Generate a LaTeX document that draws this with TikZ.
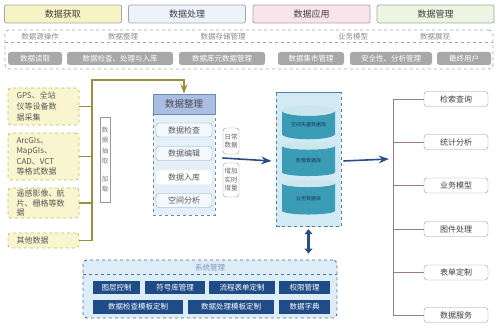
\documentclass[tikz,border=0pt]{standalone}
\usepackage{fontspec}
\setmainfont{Noto Sans CJK SC}
\usepackage{xcolor}
\usetikzlibrary{positioning,arrows.meta,calc,shapes.geometric}
\definecolor{hdryellow}{RGB}{246,243,196}
\definecolor{hdrblue}{RGB}{238,242,250}
\definecolor{hdrpink}{RGB}{250,228,236}
\definecolor{hdrgreen}{RGB}{238,244,226}
\definecolor{opsgray}{RGB}{168,168,168}
\definecolor{srcfill}{RGB}{248,245,207}
\definecolor{srcline}{RGB}{200,186,100}
\definecolor{feedline}{RGB}{154,144,64}
\definecolor{prephead}{RGB}{170,189,227}
\definecolor{prepbody}{RGB}{228,239,249}
\definecolor{prepline}{RGB}{106,140,176}
\definecolor{navy}{RGB}{42,77,134}
\definecolor{dbfill}{RGB}{211,234,245}
\definecolor{dbline}{RGB}{79,127,171}
\definecolor{disc}{RGB}{58,157,181}
\definecolor{disctop}{RGB}{203,230,236}
\definecolor{treeline}{RGB}{160,120,152}
\definecolor{sysfill}{RGB}{220,237,248}
\definecolor{sysbtn}{RGB}{31,75,135}

\begin{document}
\begin{tikzpicture}[
      x=1pt, y=-1pt,
      >=Stealth,
      hdr/.style   ={rounded corners=2pt, draw=black!35, line width=0.8pt,
                     minimum width=117pt, minimum height=18pt, inner sep=0pt,
                     font=\fontsize{9}{10}\selectfont, text=black!75},
      frame/.style ={rounded corners=4pt, draw=black!35, dashed, line width=0.8pt,
                     inner sep=0pt},
      oplbl/.style ={font=\fontsize{7.5}{8}\selectfont, text=black!45, inner sep=1pt},
      opbtn/.style ={rounded corners=2.5pt, fill=opsgray, text=white,
                     minimum height=13pt, inner sep=0pt,
                     font=\fontsize{7.5}{8}\selectfont},
      src/.style   ={rounded corners=3pt, draw=srcline, dashed, fill=srcfill,
                     line width=0.8pt, minimum width=71pt, inner sep=0pt,
                     text width=54pt, align=left, text=black!65,
                     font=\fontsize{8}{10.5}\selectfont},
      feed/.style  ={draw=feedline, line width=1.4pt},
      vlbl/.style  ={draw=black!40, fill=white, minimum width=10pt,
                     minimum height=85pt, inner sep=0pt, align=center,
                     text=black!50, font=\fontsize{6.5}{10.5}\selectfont},
      item/.style  ={rounded corners=3pt, draw=prepline!80, fill=white!60!prepbody,
                     minimum width=56pt, minimum height=14pt, inner sep=0pt,
                     text=black!65, font=\fontsize{8}{9}\selectfont},
      tag/.style   ={rounded corners=3pt, draw=black!40, fill=white,
                     minimum width=16pt, inner sep=1pt, align=center,
                     text=black!60, font=\fontsize{6.5}{8.5}\selectfont},
      flow/.style  ={->, draw=navy, line width=1.6pt},
      dbtxt/.style ={font=\fontsize{5}{6}\selectfont, text=navy!70!black},
      app/.style   ={rounded corners=3pt, draw=black!40, fill=white,
                     minimum width=64pt, minimum height=15pt, inner sep=0pt,
                     text=black!75, font=\fontsize{8}{9}\selectfont},
      branch/.style={draw=treeline, line width=0.8pt},
      sysbox/.style={fill=sysbtn, text=white, minimum height=13pt, inner sep=0pt,
                     font=\fontsize{7.5}{8}\selectfont}
    ]
    \useasboundingbox (0,0) rectangle (499,336);
    % --- stage headers ---
    \node[hdr, fill=hdryellow] (hget)  at (63,14)    {数据获取};
    \node[hdr, fill=hdrblue]   (hproc) at (187,14)   {数据处理};
    \node[hdr, fill=hdrpink]   (happ)  at (311.5,14) {数据应用};
    \node[hdr, fill=hdrgreen]  (hman)  at (435.5,14) {数据管理};
    % --- operations strip ---
    \node[frame, minimum width=488pt, minimum height=39pt] (ops) at (249,49.5) {};
    \draw[frame] ($(ops.north west)+(0,13)$) -- ($(ops.north east)+(0,13)$);
    \node[oplbl] (l1) at (40,37)  {数据源操作};
    \node[oplbl] (l2) at (123,37) {数据整理};
    \node[oplbl] (l3) at (223,37) {数据存储管理};
    \node[oplbl] (l4) at (353,37) {业务模型};
    \node[oplbl] (l5) at (435,37) {数据展现};
    \node[opbtn, minimum width=54pt]  (b1) at (35,58.5)  {数据读取};
    \node[opbtn, minimum width=106pt] (b2) at (120,58.5) {数据检查、处理与入库};
    \node[opbtn, minimum width=86pt]  (b3) at (222,58.5) {数据库元数据管理};
    \node[opbtn, minimum width=66pt]  (b4) at (311,58.5) {数据集市管理};
    \node[opbtn, minimum width=82pt]  (b5) at (391,58.5) {安全性、分析管理};
    \node[opbtn, minimum width=54pt]  (b6) at (464,58.5) {最终用户};
    % --- data sources ---
    \node[src, minimum height=37pt, font=\fontsize{8}{11}\selectfont]
      (src1) at (43.5,106.5) {GPS、全站\\仪等设备数\\据采集};
    \node[src, minimum height=47pt] (src2) at (43.5,156.5) {ArcGIs、\\MapGIs、\\CAD、VCT\\等格式数据};
    \node[src, minimum height=30pt, font=\fontsize{8}{9.5}\selectfont]
      (src3) at (43.5,203) {遥感影像、航\\片、栅格等数\\据};
    \node[src, minimum height=15pt] (src4) at (43.5,240.5) {其他数据};
    \coordinate (trunk) at (92,80);
    \foreach \s in {1,2,3}
      \draw[feed] (src\s.east) -- (src\s.east -| trunk);
    \node[vlbl] (etl) at (105,159.5) {数\\据\\抽\\取\\[7pt]加\\载};
    % --- data preparation panel ---
    \node[minimum width=62pt, minimum height=121pt, inner sep=0pt, fill=prepbody,
          draw=prepline, dashed, line width=0.8pt] (prep) at (184,154.5) {};
    \node[minimum width=62pt, minimum height=20pt, inner sep=0pt, fill=prephead,
          draw=prepline, line width=0.8pt, text=black!70,
          font=\fontsize{9.5}{10}\selectfont, anchor=north] (prephd) at (prep.north) {数据整理};
    \draw[feed, ->] (src4.east) -| (trunk) -| (prephd.north);
    \node[item] (chk)  at (184,130)   {数据检查};
    \node[item] (edit) at (184,153.5) {数据编辑};
    \node[item, draw=none, fill=white] (load) at (184,177.5) {数据入库};
    \node[item] (ana)  at (184,200.5) {空间分析};
    \node[tag, minimum height=26pt] (daily) at (231,141) {日常\\数据};
    \node[tag, minimum height=34pt] (incr)  at (231,180) {增加\\实时\\增量};
    % --- spatial database ---
    \node[cylinder, shape border rotate=90, aspect=0.32, draw=dbline, dashed,
          line width=0.9pt, cylinder uses custom fill, cylinder body fill=dbfill,
          cylinder end fill=dbfill, minimum width=65pt, minimum height=134pt,
          inner sep=0pt] (db) at (308.5,160) {};
    \foreach \n/\y/\h/\t in {1/125/34/空间矢量数据库, 2/161/34/影像数据库, 3/199/35/业务数据库}
      \node[cylinder, shape border rotate=90, aspect=0.3, cylinder uses custom fill,
            cylinder body fill=disc, cylinder end fill=disctop,
            minimum width=53pt, minimum height=\h pt, inner sep=0pt,
            dbtxt] (disc\n) at (308.5,\y) {\t};
    \draw[flow] ([xshift=7pt,yshift=-3.5pt]prep.east) -- ([xshift=-4pt,yshift=-1pt]db.west);
    % --- applications ---
    \coordinate (fan) at (393,159);
    \foreach \n/\y/\t in {1/99/检索查询, 2/142/统计分析, 3/185.5/业务模型,
                          4/229/图件处理, 5/272.5/表单定制, 6/315/数据服务}
      \node[app] (app\n) at (456,\y) {\t};
    \draw[branch] (app1.west -| fan) -- (app6.west -| fan);
    \foreach \n in {1,...,6}
      \draw[branch] (app\n.west -| fan) -- (app\n.west);
    \draw[flow] ([xshift=2pt,yshift=-1pt]db.east) -- ([xshift=-4pt]fan);
    % --- system management ---
    \node[rounded corners=4pt, fill=sysfill, draw=prepline!80!black, dashed,
          line width=0.9pt, minimum width=254pt, minimum height=58pt,
          inner sep=0pt] (sys) at (210,289) {};
    \draw[draw=prepline!80!black, dashed, line width=0.7pt]
      ($(sys.north west)+(0,15)$) -- ($(sys.north east)+(0,15)$);
    \node[text=navy!60, font=\fontsize{7.5}{8}\selectfont] (systtl) at (210,268) {系统管理};
    \node[sysbox, minimum width=47pt] (s1) at (116.5,287.5) {图层控制};
    \node[sysbox, minimum width=60pt] (s2) at (175,287.5)   {符号库管理};
    \node[sysbox, minimum width=66pt] (s3) at (242,287.5)   {流程表单定制};
    \node[sysbox, minimum width=51pt] (s4) at (304.5,287.5) {权限管理};
    \node[sysbox, minimum width=90pt, minimum height=14pt] (s5) at (138,307)   {数据检查模板定制};
    \node[sysbox, minimum width=86pt, minimum height=14pt] (s6) at (231,307)   {数据处理模板定制};
    \node[sysbox, minimum width=51pt, minimum height=14pt] (s7) at (304.5,307) {数据字典};
    \draw[<->, draw=navy, line width=3pt, >={Triangle[length=5pt,width=8pt]},
          shorten <=2pt, shorten >=6pt] (db.south) -- (db.south |- sys.north);
  \end{tikzpicture}
\end{document}
